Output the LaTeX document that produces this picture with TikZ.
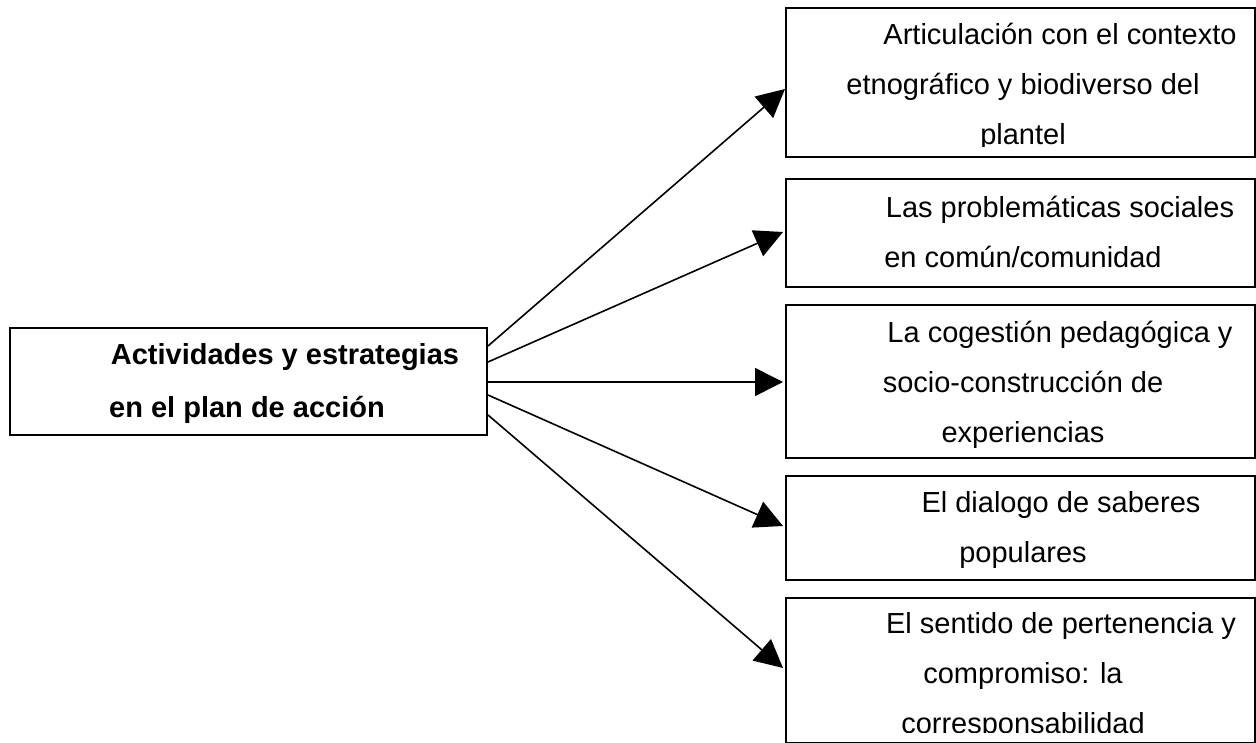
\documentclass[tikz,border=0pt]{standalone}
\usepackage{fontspec}
\setmainfont{Liberation Sans}
\usetikzlibrary{arrows.meta}
\tikzset{
  box/.style={draw, line width=2pt, anchor=north west, inner sep=0pt},
  txt/.style={anchor=base, inner sep=0pt, font=\fontsize{29}{50}\selectfont},
  btxt/.style={txt, font=\fontsize{29}{50}\selectfont\bfseries},
  conn/.style={line width=1.6pt, -{Triangle[length=28pt,width=28pt]}}
}
\begin{document}
\begin{tikzpicture}[x=1pt,y=-1pt]
\useasboundingbox (0,0) rectangle (1256,743);
% boxes
\node[box, minimum width=477pt, minimum height=107pt] (L) at (9,327) {};
\node[box, minimum width=469pt, minimum height=149pt] (b1) at (785,7) {};
\node[box, minimum width=469pt, minimum height=108pt] (b2) at (785,178) {};
\node[box, minimum width=469pt, minimum height=153pt] (b3) at (785,304) {};
\node[box, minimum width=469pt, minimum height=104pt] (b4) at (785,475) {};
\node[box, minimum width=469pt, minimum height=145pt] (b5) at (785,597) {};
% texts
\node[btxt] (l1) at (285,365) {Actividades y estrategias};
\node[btxt] (l2) at (247,417) {en el plan de acción};
\begin{scope}
\clip (786,8) rectangle (1253,146.5);
\node[txt] (t11) at (1060,45) {Articulación con el contexto};
\node[txt] (t12) at (1023,95) {etnográfico y biodiverso del};
\node[txt] (t13) at (1023,145) {plantel};
\end{scope}
\node[txt] (t21) at (1060,218) {Las problemáticas sociales};
\node[txt] (t22) at (1023,268) {en común/comunidad};
\node[txt] (t31) at (1060,342) {La cogestión pedagógica y};
\node[txt] (t32) at (1023,392) {socio-construcción de};
\node[txt] (t33) at (1023,442) {experiencias};
\node[txt] (t41) at (1061,512) {El dialogo de saberes};
\node[txt] (t42) at (1023,562) {populares};
\begin{scope}
\clip (786,598) rectangle (1253,732.5);
\node[txt] (t51) at (1061,633) {El sentido de pertenencia y};
\node[txt] (t52) at (1023,683) {compromiso: la};
\node[txt] (t53) at (1023,733) {corresponsabilidad};
\end{scope}
% connectors
\draw[conn] ([yshift=-19pt]L.north east) -- ([yshift=-82pt]b1.north west);
\draw[conn] ([yshift=-35pt]L.north east) -- ([yshift=-54pt,xshift=-2pt]b2.north west);
\draw[conn] ([yshift=-55pt]L.north east) -- ([yshift=-78pt,xshift=-2pt]b3.north west);
\draw[conn] ([yshift=-68pt]L.north east) -- ([yshift=-51pt,xshift=-2pt]b4.north west);
\draw[conn] ([yshift=-88pt]L.north east) -- ([yshift=-71pt,xshift=-2pt]b5.north west);
\end{tikzpicture}
\end{document}
